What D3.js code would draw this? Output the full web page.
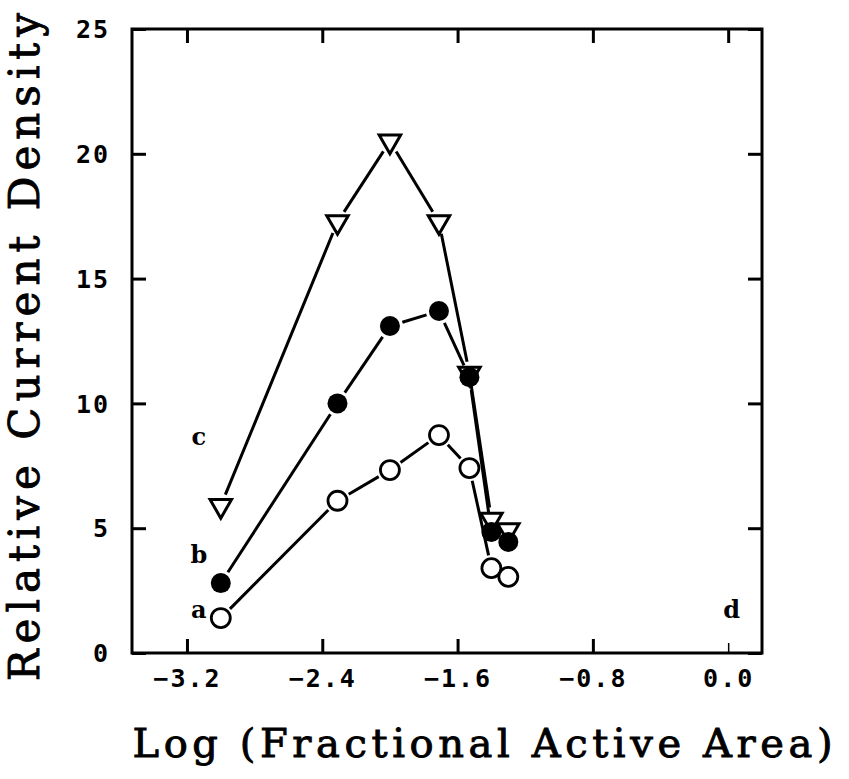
<!DOCTYPE html>
<html><head><meta charset="utf-8">
<script src="https://cdn.jsdelivr.net/npm/d3@7"></script>
<style>body{margin:0;background:#fff}</style>
</head><body>
<svg id="c" width="849" height="779"></svg>
<script>
const xVals = [-3.0, -2.31, -2.0, -1.71, -1.53, -1.40, -1.30];
const seriesA = [1.4, 6.1, 7.33, 8.73, 7.41, 3.4, 3.05];   // open circles
const seriesB = [2.8, 10.0, 13.1, 13.7, 11.05, 4.85, 4.45]; // filled circles
const seriesC = [5.9, 17.27, 20.5, 17.27, 11.2, 5.35, 4.93]; // triangles
const xTicks = [-3.2, -2.4, -1.6, -0.8, 0.0];
const yTicks = [0, 5, 10, 15, 20, 25];
const curveLabels = [{t:"a", x:-3.13, y:1.75},{t:"b", x:-3.13, y:3.95},{t:"c", x:-3.13, y:8.65},{t:"d", x:0.02, y:1.75}];

const svg = d3.select("#c");
const L=132, R=762, T=29, B=653;
const x = d3.scaleLinear().domain([-3.525, 0.2]).range([L, R]);
const y = d3.scaleLinear().domain([0, 25]).range([B, T]);
const tickFont = "'DejaVu Sans Mono', monospace";
const titleFont = "'DejaVu Serif', 'Liberation Serif', serif";

// frame
svg.append("rect").attr("x",L).attr("y",T).attr("width",R-L).attr("height",B-T)
  .attr("fill","none").attr("stroke","#000").attr("stroke-width",3);

// axes with inward ticks
const tk = 14;
const xb = svg.append("g").attr("transform",`translate(0,${B})`)
  .call(d3.axisBottom(x).tickValues(xTicks).tickSizeInner(-tk).tickSizeOuter(0).tickPadding(24)
    .tickFormat(d=> d===0 ? "0.0" : d3.format(".1f")(d).replace("-","\u2212")));
const xt = svg.append("g").attr("transform",`translate(0,${T})`)
  .call(d3.axisTop(x).tickValues(xTicks).tickSizeInner(-tk).tickSizeOuter(0).tickFormat(""));
const yl = svg.append("g").attr("transform",`translate(${L},0)`)
  .call(d3.axisLeft(y).tickValues(yTicks).tickSizeInner(-tk).tickSizeOuter(0).tickPadding(22));
const yr = svg.append("g").attr("transform",`translate(${R},0)`)
  .call(d3.axisRight(y).tickValues(yTicks).tickSizeInner(-tk).tickSizeOuter(0).tickFormat(""));
[xb,xt,yl,yr].forEach(g=>{
  g.select(".domain").remove();
  g.selectAll(".tick line").attr("stroke","#000").attr("stroke-width",3);
  g.selectAll("text").attr("fill","#000").attr("font-family",tickFont)
   .attr("font-size",25).attr("font-weight","bold").attr("letter-spacing",2);
});
xb.selectAll(".tick").filter(d=>d===0).select("line").attr("stroke-width",1.5).attr("y2",-10);
xb.selectAll("text").attr("dy","0.4em");
yl.selectAll("text").attr("dy","0.35em");

// titles
svg.append("text").attr("x",(130+835)/2).attr("y",757).attr("text-anchor","middle")
  .attr("font-family",titleFont).attr("font-size",40)
  .attr("stroke","#000").attr("stroke-width",0.9)
  .attr("textLength",700).attr("lengthAdjust","spacing")
  .text("Log (Fractional Active Area)");
svg.append("text").attr("transform",`translate(39,${(12+682)/2}) rotate(-90)`).attr("text-anchor","middle")
  .attr("font-family",titleFont).attr("font-size",42)
  .attr("stroke","#000").attr("stroke-width",0.9)
  .attr("textLength",668).attr("lengthAdjust","spacing")
  .text("Relative Current Density");

// lines with gaps near markers
function drawLine(vals, gap){
  for(let i=0;i<vals.length-1;i++){
    const x1=x(xVals[i]), y1=y(vals[i]), x2=x(xVals[i+1]), y2=y(vals[i+1]);
    const dx=x2-x1, dy=y2-y1, len=Math.hypot(dx,dy);
    if(len<=2*gap) continue;
    const ux=dx/len, uy=dy/len;
    svg.append("line").attr("x1",x1+ux*gap).attr("y1",y1+uy*gap)
      .attr("x2",x2-ux*gap).attr("y2",y2-uy*gap)
      .attr("stroke","#000").attr("stroke-width",3);
  }
}
drawLine(seriesC, 12);
drawLine(seriesB, 13);
drawLine(seriesA, 13);

// markers
const tri = d3.symbol().type(d3.symbolTriangle).size(200);
svg.append("g").selectAll("path").data(xVals).join("path")
  .attr("d",tri).attr("transform",(d,i)=>`translate(${x(d)},${y(seriesC[i])}) rotate(180)`)
  .attr("fill","#fff").attr("stroke","#000").attr("stroke-width",3);
svg.append("g").selectAll("circle").data(xVals).join("circle")
  .attr("cx",d=>x(d)).attr("cy",(d,i)=>y(seriesB[i])).attr("r",10).attr("fill","#000");
svg.append("g").selectAll("circle").data(xVals).join("circle")
  .attr("cx",d=>x(d)).attr("cy",(d,i)=>y(seriesA[i])).attr("r",9.5)
  .attr("fill","#fff").attr("stroke","#000").attr("stroke-width",2.8);

// curve labels
svg.append("g").selectAll("text").data(curveLabels).join("text")
  .attr("x",d=>x(d.x)).attr("y",d=>y(d.y)).attr("text-anchor","middle").attr("dy","0.35em")
  .attr("font-family",titleFont).attr("font-weight","bold").attr("font-size",24)
  .text(d=>d.t);
</script>
</body></html>
